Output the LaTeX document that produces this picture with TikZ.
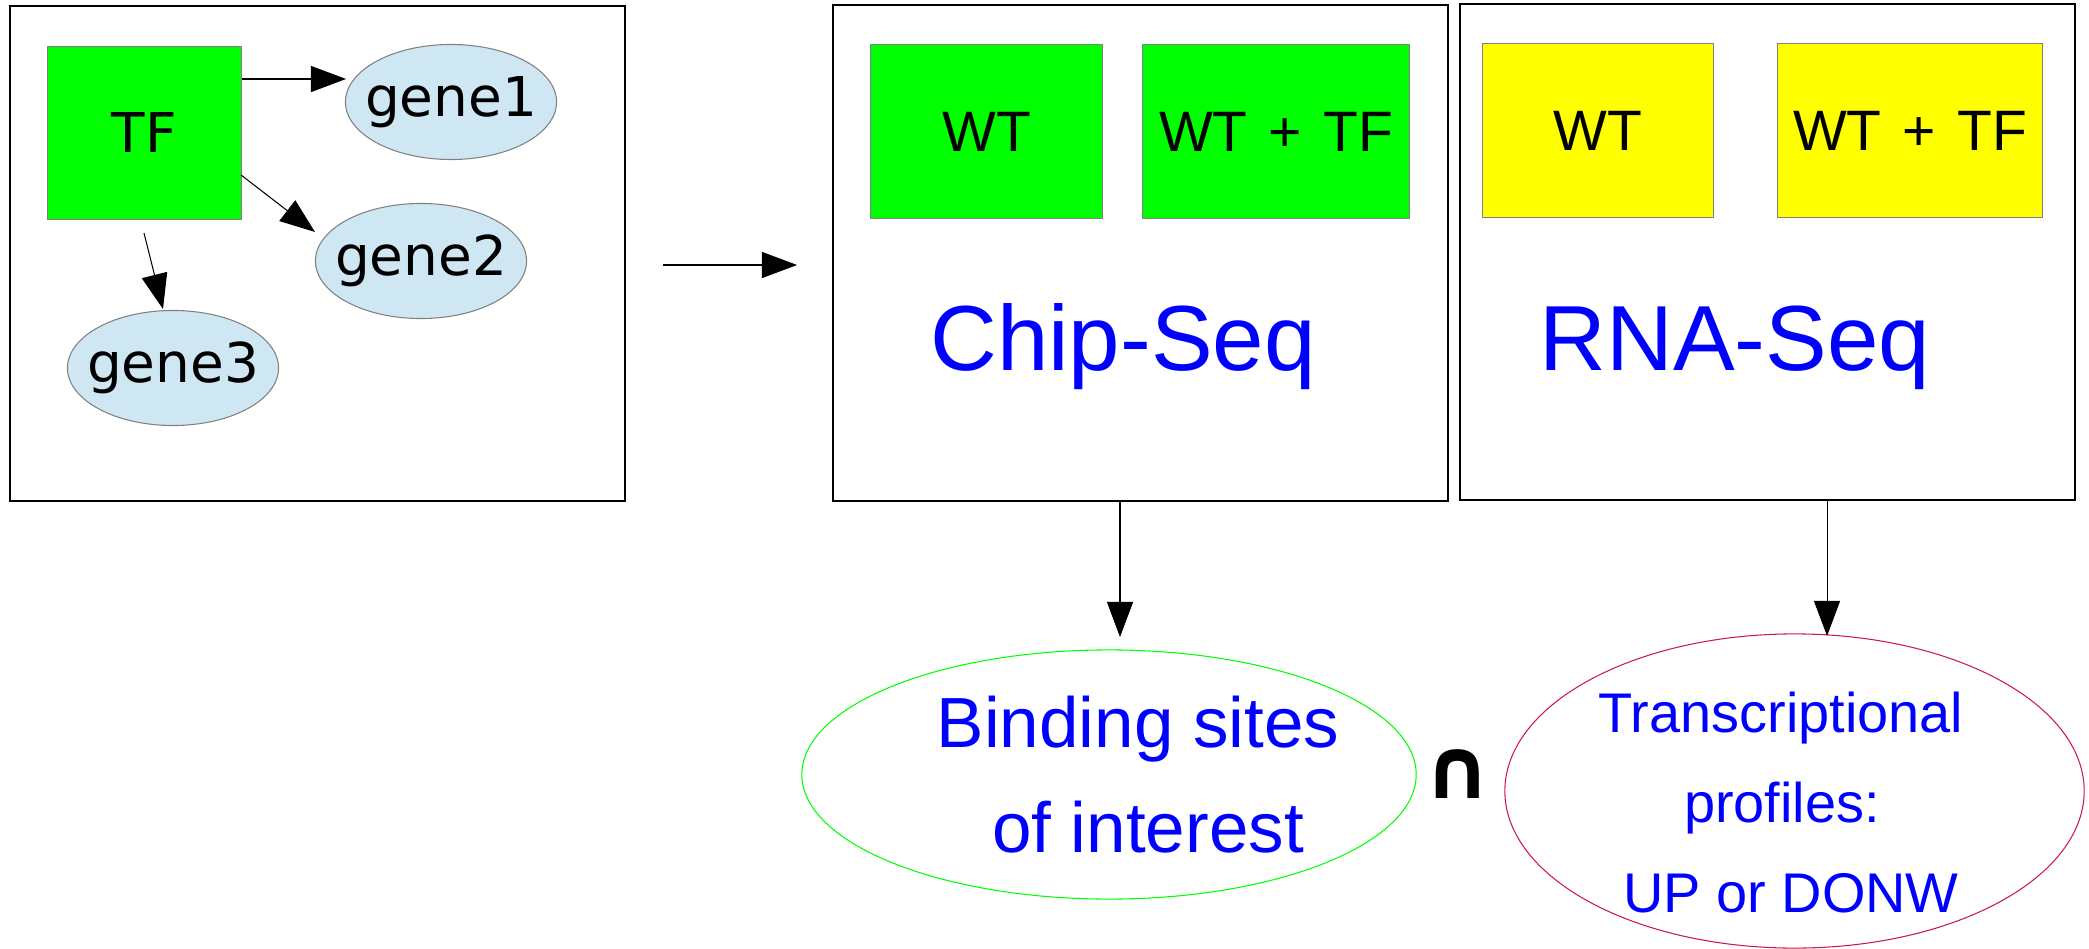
\documentclass[tikz,border=0pt]{standalone}
\usepackage{fontspec}
\setmainfont{Liberation Sans}
\newfontfamily\dejavu{DejaVu Sans}
\usetikzlibrary{arrows.meta,shapes.geometric}
\definecolor{genefill}{HTML}{CFE6F3}
\definecolor{edgegray}{HTML}{808080}
\definecolor{pgreen}{HTML}{00FF00}
\definecolor{pyellow}{HTML}{FFFF00}
\definecolor{pblue}{HTML}{0000FF}
\definecolor{pcrimson}{HTML}{CC1850}
\newcommand{\zw}[1]{\makebox[0pt]{#1}}
\begin{document}
\begin{tikzpicture}[x=0.01cm,y=-0.01cm,
  frame/.style={draw=black,line width=0.6pt,inner sep=0},
  colbox/.style={draw=edgegray,line width=0.3pt,inner sep=0,font=\fontsize{16.2}{19}\selectfont},
  gene/.style={ellipse,draw=edgegray,fill=genefill,line width=0.3pt,minimum width=2.11cm,minimum height=1.15cm,inner sep=0,font=\dejavu\fontsize{15.6}{18}\selectfont},
  arr/.style={-{Triangle[length=0.35cm,width=0.26cm]},line width=0.3pt},
  bigtxt/.style={text=pblue,inner sep=0,anchor=base,font=\fontsize{26.3}{30}\selectfont},
  midtxt/.style={text=pblue,inner sep=0,anchor=base,font=\fontsize{20.2}{24}\selectfont},
  smalltxt/.style={text=pblue,inner sep=0,anchor=base,font=\fontsize{15.9}{18}\selectfont},
  result/.style={ellipse,inner sep=0,line width=0.3pt}]
\useasboundingbox (0,0) rectangle (2089,949);
% left panel
\node[frame,minimum width=6.15cm,minimum height=4.95cm] (left) at (317.5,253.5) {};
\node[colbox,fill=pgreen,minimum width=1.93cm,minimum height=1.72cm,font=\dejavu\fontsize{15.6}{18}\selectfont] (tf) at (144.5,133) {TF};
\node[gene] (g1) at (451,102) {\zw{gene1}};
\node[gene] (g2) at (421,261) {\zw{gene2}};
\node[gene] (g3) at (173,368) {\zw{gene3}};
\coordinate (g1in) at (346,79);
\coordinate (g2out) at (241,175);
\coordinate (g2in) at (315,232);
\coordinate (g3out) at (144,233);
\coordinate (g3in) at (163,309);
\draw[arr] (tf.east |- g1in) -- (g1in);
\draw[arr] (g2out) -- (g2in);
\draw[arr] (g3out) -- (g3in);
% middle arrow
\coordinate (ms) at (663,265);
\coordinate (me) at (797,265);
\draw[arr] (ms) -- (me);
% Chip-Seq panel
\node[frame,minimum width=6.15cm,minimum height=4.96cm] (chip) at (1140.5,253) {};
\node[colbox,fill=pgreen,minimum width=2.31cm,minimum height=1.73cm] (cwt) at (986.5,131.5) {WT};
\node[colbox,fill=pgreen,minimum width=2.66cm,minimum height=1.73cm] (cwttf) at (1276,131.5) {WT\hspace{1.5pt} + \hspace{1.5pt}TF};
\node[bigtxt] (chiplbl) at (1123,370) {Chip-Seq};
% RNA-Seq panel
\node[frame,minimum width=6.15cm,minimum height=4.96cm] (rna) at (1767.5,252) {};
\node[colbox,fill=pyellow,minimum width=2.30cm,minimum height=1.73cm] (rwt) at (1598,130.5) {WT};
\node[colbox,fill=pyellow,minimum width=2.64cm,minimum height=1.73cm] (rwttf) at (1910,130.5) {WT\hspace{1.5pt} + \hspace{1.5pt}TF};
\node[bigtxt] (rnalbl) at (1735,370) {RNA-Seq};
% results
\node[result,draw=pgreen,minimum width=6.14cm,minimum height=2.49cm] (bind) at (1109,774.5) {};
\node[midtxt] (bind1) at (1138,747) {Binding sites};
\node[midtxt] (bind2) at (1148,852) {of interest};
\node[result,draw=pcrimson,minimum width=5.79cm,minimum height=3.14cm] (prof) at (1794.5,791) {};
\node[smalltxt] (prof1) at (1781,732) {Transcriptional};
\node[smalltxt] (prof2) at (1782,822) {profiles:};
\node[smalltxt] (prof3) at (1791,912) {UP or DONW};
\node[inner sep=0,anchor=base,font=\dejavu\bfseries\fontsize{24}{28}\selectfont] (cap) at (1458,798) {∩};
% down arrows
\coordinate (cin) at (1120,637);
\coordinate (rin) at (1827,636);
\draw[arr] (chip.south -| cin) -- (cin);
\draw[arr] (rna.south -| rin) -- (rin);
\end{tikzpicture}
\end{document}
